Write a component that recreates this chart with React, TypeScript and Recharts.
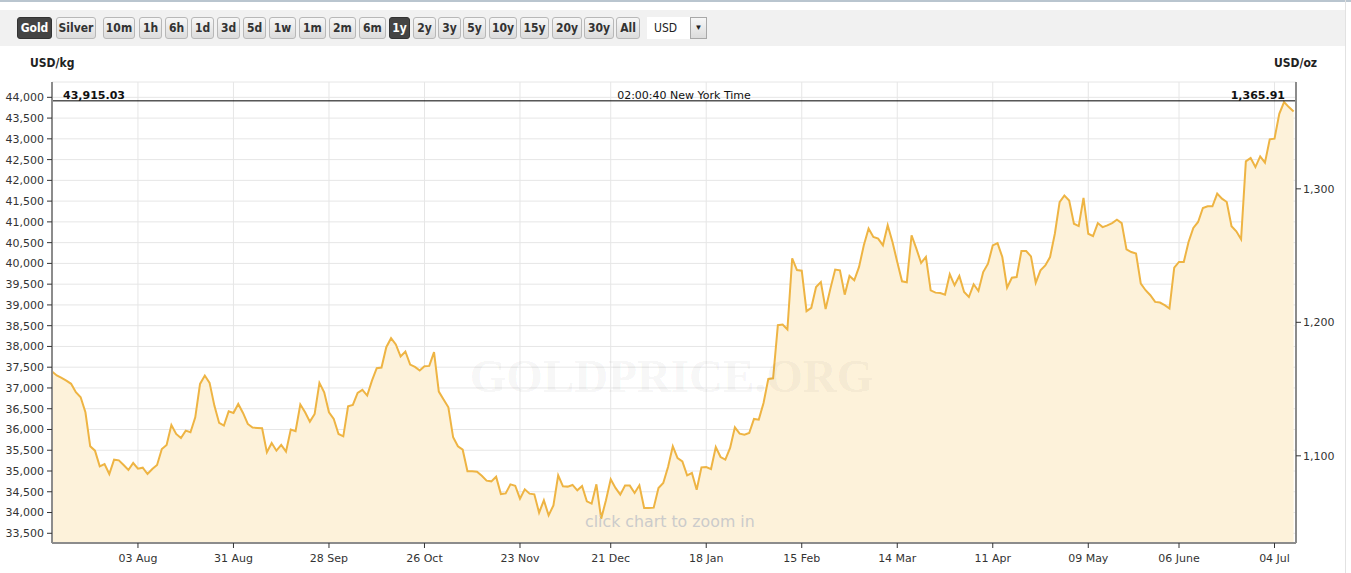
import React from 'react';
import { ComposedChart, Area, XAxis, YAxis, CartesianGrid, ReferenceLine } from 'recharts';

// troy ounces in a kilogram, used for the right hand USD/oz axis
const OZ_PER_KG = 32.1507466;

// one value per trading day, Jul 2015 -> Jul 2016, USD per kg
const usdPerKg = [
  37395, 37300, 37243, 37178, 37100, 36897, 36777, 36415, 35595, 35490, 35112, 35168, 34928, 35273, 35257, 35145,
  35024, 35193, 35056, 35080, 34928, 35048, 35145, 35530, 35627, 36109, 35892, 35796, 35973, 35932, 36294, 37098,
  37299, 37122, 36575, 36158, 36093, 36439, 36399, 36616, 36399, 36133, 36045, 36037, 36029, 35450, 35675, 35490,
  35627, 35466, 35997, 35957, 36600, 36415, 36190, 36375, 37122, 36897, 36415, 36254, 35892, 35836, 36559, 36592,
  36881, 36953,
  36817, 37178, 37476, 37492, 37982, 38199, 38047, 37757, 37878, 37564, 37508, 37420, 37524, 37532, 37862, 36913,
  36720, 36535, 35812, 35595, 35514, 34992, 34992, 34984, 34887, 34767, 34751, 34863, 34445, 34461, 34678, 34646,
  34334, 34559, 34455, 34439, 33997, 34294, 33932, 34173, 34897, 34632, 34624, 34664, 34535, 34640, 34270, 34214,
  34680, 33852, 34294, 34800, 34592, 34431, 34648, 34648, 34471, 34656, 34109, 34109, 34117, 34592, 34712, 35098,
  35594, 35313, 35232, 34895, 34951, 34549, 35088, 35096, 35047, 35578, 35337, 35273, 35554, 36052, 35900, 35875,
  35916, 36253, 36237, 36639, 37218, 37234, 38513, 38529, 38408, 40121, 39839, 39823, 38850, 38931, 39429, 39550,
  38900, 39392, 39850, 39834, 39247, 39698, 39593, 39915, 40437, 40839, 40638, 40598, 40437, 40920, 40518, 40035,
  39569, 39545, 40678, 40357, 40011, 40156, 39352, 39296, 39288, 39247, 39738, 39473, 39698, 39312, 39191, 39497,
  39336,
  39792, 39992, 40433, 40489, 40153, 39415, 39655, 39671, 40297, 40297, 40169, 39535, 39832, 39952, 40153, 40714,
  41476, 41636, 41516, 40955, 40899, 41580, 40714, 40658, 40971, 40874, 40915, 40971, 41051, 40971, 40337, 40273,
  40240, 39514, 39354, 39233, 39073, 39057, 38993, 38913, 39899, 40035, 40035, 40517, 40853, 40998, 41335, 41375,
  41375, 41680, 41559, 41479, 40894, 40773, 40581, 42457, 42538, 42321, 42578, 42425, 42987, 43003, 43604, 43885,
  43765, 43660,
];

// trading-day index of each date label on the x axis
const tickDays = [18, 38, 58, 78, 98, 117, 137, 157, 177, 197, 217, 236, 256];
const tickDates = ['03 Aug', '31 Aug', '28 Sep', '26 Oct', '23 Nov', '21 Dec', '18 Jan', '15 Feb', '14 Mar', '11 Apr', '09 May', '06 June', '04 Jul'];

const kgTicks = [33500, 34000, 34500, 35000, 35500, 36000, 36500, 37000, 37500, 38000, 38500, 39000, 39500, 40000, 40500, 41000, 41500, 42000, 42500, 43000, 43500, 44000];
const ozTicks = [1100, 1200, 1300];

const spotKg = 43915.03;
const spotOz = 1365.91;
const kgDomain = [33266, 44369];
const ozDomain = [kgDomain[0] / OZ_PER_KG, kgDomain[1] / OZ_PER_KG];

const toolbar = [
  { label: 'Gold', left: 17, width: 35, on: true },
  { label: 'Silver', left: 56, width: 40 },
  { label: '10m', left: 103, width: 32 },
  { label: '1h', left: 139, width: 23 },
  { label: '6h', left: 165, width: 23 },
  { label: '1d', left: 191, width: 23 },
  { label: '3d', left: 217, width: 23 },
  { label: '5d', left: 243, width: 23 },
  { label: '1w', left: 269, width: 27 },
  { label: '1m', left: 299, width: 27 },
  { label: '2m', left: 329, width: 27 },
  { label: '6m', left: 359, width: 27 },
  { label: '1y', left: 389, width: 21, on: true },
  { label: '2y', left: 413, width: 23 },
  { label: '3y', left: 438, width: 23 },
  { label: '5y', left: 463, width: 23 },
  { label: '10y', left: 489, width: 28 },
  { label: '15y', left: 520, width: 29 },
  { label: '20y', left: 552, width: 30 },
  { label: '30y', left: 584, width: 30 },
  { label: 'All', left: 616, width: 24 },
];

const data = usdPerKg.map((kg, day) => ({ day, kg }));

const narrow = '"Liberation Sans Narrow", "Arial Narrow", "DejaVu Sans Condensed", "Liberation Sans", sans-serif';
const verdana = '"DejaVu Sans", Verdana, sans-serif';
const fmt = (v: number) => v.toLocaleString('en-US');
const tickStyle = { fontSize: 11, fill: '#333', fontFamily: verdana };

const App: React.FC = () => {
  return (
    <div style={{ position: 'relative', width: 1351, height: 573, background: '#fff', overflow: 'hidden' }}>
      <style>{'body{margin:0}'}</style>
      <div style={{ position: 'absolute', left: 0, top: 0, width: 1351, height: 2, background: '#b9c5cf' }} />
      <div style={{ position: 'absolute', left: 1345, top: 0, width: 1, height: 573, background: '#e2e2e2' }} />
      <div style={{ position: 'absolute', left: 0, top: 10, width: 1345, height: 36, background: '#f1f1f1' }} />
      {toolbar.map((b) => (
        <div
          key={b.label}
          style={{
            position: 'absolute', left: b.left, top: 17, width: b.width, height: 22, boxSizing: 'border-box',
            borderRadius: 3, border: b.on ? '1px solid #333' : '1px solid #b8b8b8',
            background: b.on ? '#444' : 'linear-gradient(#f7f7f7, #dcdcdc)',
            color: b.on ? '#fff' : '#333', fontFamily: narrow, fontWeight: 'bold', fontSize: 12,
            lineHeight: '20px', textAlign: 'center',
          }}
        >
          {b.label}
        </div>
      ))}
      <div style={{ position: 'absolute', left: 647, top: 17, width: 43, height: 22, background: '#fff', fontFamily: narrow, fontSize: 12, lineHeight: '22px', color: '#222', paddingLeft: 7, boxSizing: 'border-box' }}>USD</div>
      <div style={{ position: 'absolute', left: 690, top: 17, width: 17, height: 22, boxSizing: 'border-box', border: '1px solid #a8a8a8', background: 'linear-gradient(#f7f7f7, #dcdcdc)', fontSize: 8, lineHeight: '20px', textAlign: 'center', color: '#222' }}>▼</div>

      <div style={{ position: 'absolute', left: 0, top: 0 }}>
        <ComposedChart width={1351} height={573} data={data} margin={{ top: 82, right: 0, bottom: 0, left: 0 }}>
          <CartesianGrid stroke="#e6e6e6" strokeWidth={1} />
          <XAxis
            dataKey="day" type="number" domain={[0, 260.5]} ticks={tickDays} interval={0} allowDataOverflow
            tickFormatter={(v: number) => tickDates[tickDays.indexOf(v)] ?? ''}
            height={30} tickSize={5} tickMargin={6} tick={tickStyle}
            axisLine={{ stroke: '#8c8c8c', strokeWidth: 2 }} tickLine={{ stroke: '#333' }}
          />
          <YAxis
            type="number" domain={kgDomain} ticks={kgTicks} interval={0} allowDataOverflow
            tickFormatter={fmt} width={52} tickSize={5} tickMargin={3} tick={tickStyle}
            axisLine={{ stroke: '#8c8c8c', strokeWidth: 2 }} tickLine={{ stroke: '#333' }}
          />
          <YAxis
            yAxisId="oz" orientation="right" type="number" domain={ozDomain} ticks={ozTicks} interval={0} allowDataOverflow
            tickFormatter={fmt} width={55} tickSize={5} tickMargin={2} tick={tickStyle}
            axisLine={{ stroke: '#8c8c8c', strokeWidth: 2 }} tickLine={{ stroke: '#333' }}
          />
          <Area
            type="linear" dataKey="kg" stroke="#eeb443" strokeWidth={2} fill="#fdf2da" fillOpacity={1}
            dot={false} activeDot={false} isAnimationActive={false}
          />
          <ReferenceLine y={spotKg} stroke="#000" strokeWidth={1} />
        </ComposedChart>
      </div>

      <div style={{ position: 'absolute', left: 0, width: 1343, top: 349, textAlign: 'center', fontFamily: '"Liberation Serif", "DejaVu Serif", serif', fontWeight: 'bold', fontSize: 47, color: 'rgba(0,0,0,0.05)', pointerEvents: 'none' }}>
        GOLDPRICE.ORG
      </div>
      <div style={{ position: 'absolute', left: 585, top: 512, fontFamily: verdana, fontSize: 15.8, color: '#cbcbcb' }}>click chart to zoom in</div>

      <div style={{ position: 'absolute', left: 30, top: 56, fontFamily: narrow, fontWeight: 'bold', fontSize: 12, color: '#222' }}>USD/kg</div>
      <div style={{ position: 'absolute', left: 1274, top: 56, fontFamily: narrow, fontWeight: 'bold', fontSize: 12, color: '#222' }}>USD/oz</div>
      <div style={{ position: 'absolute', left: 63, top: 89, fontFamily: verdana, fontWeight: 'bold', fontSize: 11, color: '#111' }}>{spotKg.toLocaleString('en-US', { minimumFractionDigits: 2 })}</div>
      <div style={{ position: 'absolute', left: 584, width: 200, top: 89, textAlign: 'center', fontFamily: verdana, fontSize: 11, color: '#111' }}>02:00:40 New York Time</div>
      <div style={{ position: 'absolute', right: 1351 - 1285, top: 89, fontFamily: verdana, fontWeight: 'bold', fontSize: 11, color: '#111' }}>{spotOz.toLocaleString('en-US', { minimumFractionDigits: 2 })}</div>
    </div>
  );
};

export default App;
